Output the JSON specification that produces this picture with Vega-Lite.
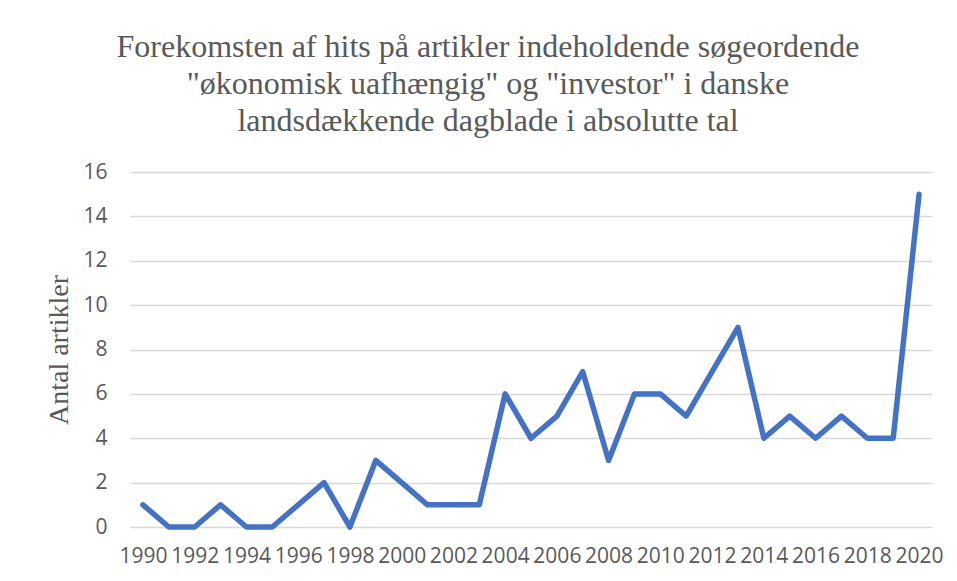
{
  "$schema": "https://vega.github.io/schema/vega-lite/v6.json",
  "width": 802,
  "height": 355,
  "autosize": {"type": "none"},
  "padding": {"left": 130, "top": 172, "right": 25, "bottom": 54},
  "background": "white",
  "title": {
    "text": ["Forekomsten af hits på artikler indeholdende søgeordende", "\"økonomisk uafhængig\" og \"investor\" i danske", "landsdækkende dagblade i absolutte tal"],
    "font": "Liberation Serif",
    "fontSize": 32,
    "fontWeight": "normal",
    "color": "#595959",
    "lineHeight": 37,
    "anchor": "middle",
    "dx": -43,
    "offset": 23
  },
  "data": {
    "values": [
      {"year": 1990, "count": 1}, {"year": 1991, "count": 0}, {"year": 1992, "count": 0},
      {"year": 1993, "count": 1}, {"year": 1994, "count": 0}, {"year": 1995, "count": 0},
      {"year": 1996, "count": 1}, {"year": 1997, "count": 2}, {"year": 1998, "count": 0},
      {"year": 1999, "count": 3}, {"year": 2000, "count": 2}, {"year": 2001, "count": 1},
      {"year": 2002, "count": 1}, {"year": 2003, "count": 1}, {"year": 2004, "count": 6},
      {"year": 2005, "count": 4}, {"year": 2006, "count": 5}, {"year": 2007, "count": 7},
      {"year": 2008, "count": 3}, {"year": 2009, "count": 6}, {"year": 2010, "count": 6},
      {"year": 2011, "count": 5}, {"year": 2012, "count": 7}, {"year": 2013, "count": 9},
      {"year": 2014, "count": 4}, {"year": 2015, "count": 5}, {"year": 2016, "count": 4},
      {"year": 2017, "count": 5}, {"year": 2018, "count": 4}, {"year": 2019, "count": 4},
      {"year": 2020, "count": 15}
    ]
  },
  "mark": {"type": "line", "color": "#4472C4", "strokeWidth": 5.5, "strokeJoin": "round", "strokeCap": "round", "clip": false},
  "encoding": {
    "x": {
      "field": "year",
      "type": "quantitative",
      "scale": {"domain": [1989.5, 2020.5], "nice": false, "zero": false},
      "axis": {
        "title": null,
        "values": [1990, 1992, 1994, 1996, 1998, 2000, 2002, 2004, 2006, 2008, 2010, 2012, 2014, 2016, 2018, 2020],
        "format": "d",
        "grid": false,
        "domain": false,
        "ticks": false,
        "labelFont": "Open Sans",
        "labelFontSize": 21,
        "labelColor": "#595959",
        "labelPadding": 18,
        "labelOverlap": false,
        "labelFlush": false
      }
    },
    "y": {
      "field": "count",
      "type": "quantitative",
      "scale": {"domain": [0, 16], "nice": false},
      "axis": {
        "title": "Antal artikler",
        "titleFont": "Liberation Serif",
        "titleFontSize": 28,
        "titleFontWeight": "normal",
        "titleColor": "#595959",
        "titlePadding": 9,
        "values": [0, 2, 4, 6, 8, 10, 12, 14, 16],
        "grid": true,
        "gridColor": "#d9d9d9",
        "gridWidth": 1.5,
        "domain": false,
        "ticks": false,
        "labelFont": "Open Sans",
        "labelFontSize": 21,
        "labelColor": "#595959",
        "labelPadding": 23
      }
    }
  },
  "config": {"view": {"stroke": null}}
}
